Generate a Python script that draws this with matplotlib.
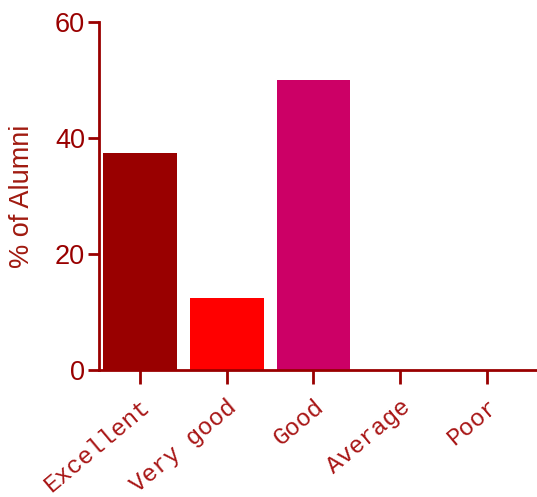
import matplotlib
matplotlib.use("Agg")
import matplotlib.pyplot as plt
import matplotlib.transforms as mtransforms

categories = ["Excellent", "Very good", "Good", "Average", "Poor"]
values = [37.5, 12.5, 50.0, 0.0, 0.0]
colors = ["#990000", "#ff0000", "#cc0066", "#990000", "#990000"]
yticks = [0, 20, 40, 60]

dark = "#990000"
fig = plt.figure(figsize=(5.37, 4.97), dpi=100)
ax = fig.add_axes([0.184, 0.2555, 0.816, 0.7002])
x = list(range(len(categories)))
ax.bar(x, values, width=0.85, color=colors, edgecolor="none")
ax.set_xlim(-0.473, 4.576)
ax.set_ylim(0, 60)
ax.set_yticks(yticks)
ax.set_xticks(x)
ax.set_xticklabels(categories, rotation=40, ha="right", va="top",
                   rotation_mode="anchor", family="Liberation Mono",
                   fontsize=17.5, color="#a81515")
offset = mtransforms.ScaledTranslation(13/100, -5/100, fig.dpi_scale_trans)
for lab in ax.get_xticklabels():
    lab.set_transform(lab.get_transform() + offset)
for lab in ax.get_yticklabels():
    lab.set_family("Liberation Sans")
    lab.set_fontsize(19.5)
    lab.set_color(dark)
ax.set_ylabel("% of Alumni", family="Liberation Sans", fontsize=19.5,
              color="#a01a10", labelpad=14)
for s in ["top", "right"]:
    ax.spines[s].set_visible(False)
for s in ["left", "bottom"]:
    ax.spines[s].set_color(dark)
    ax.spines[s].set_linewidth(2)
ax.tick_params(axis="x", length=10, width=2, color=dark, pad=8)
ax.tick_params(axis="y", length=8, width=2, color=dark, pad=2)
fig.savefig("out.png", dpi=100)
